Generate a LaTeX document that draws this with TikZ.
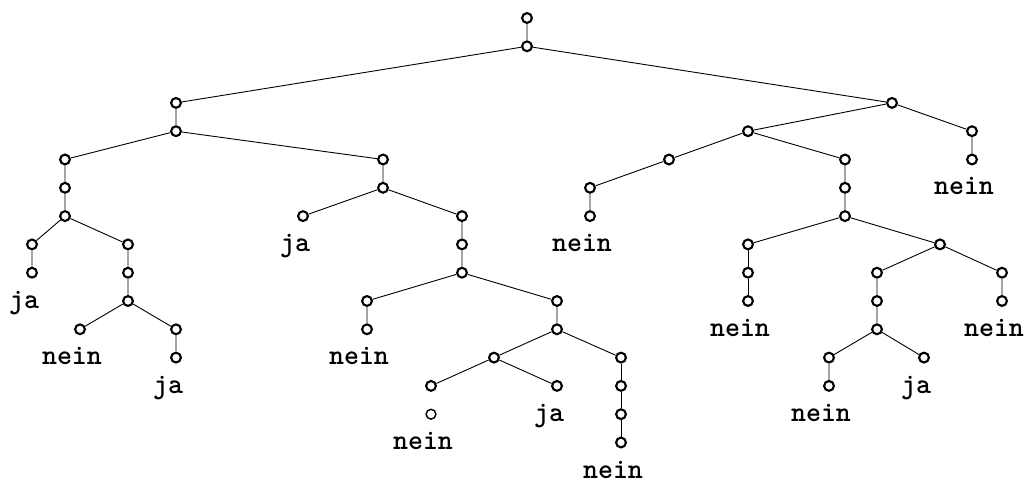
\documentclass[tikz,border=0pt]{standalone}
\begin{document}
\begin{tikzpicture}[x=1pt,y=-1pt,
  vx/.style={circle,draw,line width=2.1pt,minimum size=9.8pt,inner sep=0pt},
  vxthin/.style={vx,line width=1.4pt},
  edge/.style={line width=0.9pt},
  lab/.style={anchor=base,inner sep=0pt,font=\fontsize{28.5}{30}\selectfont\ttfamily\bfseries}]
\useasboundingbox (0,0) rectangle (1029,481);
% rows of the tree
\def\ya{18}\def\yb{46.3}\def\yd{102.9}\def\ye{131.2}\def\yf{159.5}\def\yg{187.8}
\def\yh{216.1}\def\yi{244.4}\def\yj{272.7}\def\yk{301}\def\yl{329.3}\def\ym{357.6}
\def\yn{385.9}\def\yo{414.2}\def\yp{442.5}
% vertices
\node[vx] (n0) at (527,\ya) {};
\node[vx] (n1) at (527,\yb) {};
\node[vx] (a)  at (176,\yd) {};
\node[vx] (a1) at (176,\ye) {};
\node[vx] (b)  at (65,\yf) {};
\node[vx] (b1) at (65,\yg) {};
\node[vx] (b2) at (65,\yh) {};
\node[vx] (c)  at (32,\yi) {};
\node[vx] (c1) at (32,\yj) {};
\node[vx] (d)  at (128,\yi) {};
\node[vx] (d1) at (128,\yj) {};
\node[vx] (d2) at (128,\yk) {};
\node[vx] (e)  at (80,\yl) {};
\node[vx] (f)  at (176,\yl) {};
\node[vx] (f1) at (176,\ym) {};
\node[vx] (g)  at (383,\yf) {};
\node[vx] (g1) at (383,\yg) {};
\node[vx] (h)  at (303,\yh) {};
\node[vx] (i)  at (462,\yh) {};
\node[vx] (i1) at (462,\yi) {};
\node[vx] (i2) at (462,\yj) {};
\node[vx] (j)  at (367,\yk) {};
\node[vx] (j1) at (367,\yl) {};
\node[vx] (k)  at (557,\yk) {};
\node[vx] (k1) at (557,\yl) {};
\node[vx] (l)  at (494,\ym) {};
\node[vx] (m)  at (431,\yn) {};
\node[vxthin] (m1) at (431,\yo) {};
\node[vx] (o)  at (557,\yn) {};
\node[vx] (p)  at (621,\ym) {};
\node[vx] (p1) at (621,\yn) {};
\node[vx] (p2) at (621,\yo) {};
\node[vx] (p3) at (621,\yp) {};
\node[vx] (q)  at (892,\yd) {};
\node[vx] (r)  at (748,\ye) {};
\node[vx] (s)  at (669,\yf) {};
\node[vx] (s1) at (590,\yg) {};
\node[vx] (s2) at (590,\yh) {};
\node[vx] (t)  at (845,\yf) {};
\node[vx] (t1) at (845,\yg) {};
\node[vx] (t2) at (845,\yh) {};
\node[vx] (u)  at (748,\yi) {};
\node[vx] (u1) at (748,\yj) {};
\node[vx] (u2) at (748,\yk) {};
\node[vx] (v)  at (940,\yi) {};
\node[vx] (w)  at (877,\yj) {};
\node[vx] (w1) at (877,\yk) {};
\node[vx] (w2) at (877,\yl) {};
\node[vx] (x)  at (829,\ym) {};
\node[vx] (x1) at (829,\yn) {};
\node[vx] (y)  at (924,\ym) {};
\node[vx] (z)  at (1002,\yj) {};
\node[vx] (z1) at (1002,\yk) {};
\node[vx] (qq) at (972,\ye) {};
\node[vx] (qq1) at (972,\yf) {};
% edges
\draw[edge] (n0)--(n1) (n1)--(a) (n1)--(q);
\draw[edge] (a)--(a1) (a1)--(b) (a1)--(g);
\draw[edge] (b)--(b1) (b1)--(b2) (b2)--(c) (b2)--(d) (c)--(c1);
\draw[edge] (d)--(d1) (d1)--(d2) (d2)--(e) (d2)--(f) (f)--(f1);
\draw[edge] (g)--(g1) (g1)--(h) (g1)--(i) (i)--(i1) (i1)--(i2);
\draw[edge] (i2)--(j) (i2)--(k) (j)--(j1) (k)--(k1);
\draw[edge] (k1)--(l) (k1)--(p) (l)--(m) (l)--(o);
\draw[edge] (p)--(p1) (p1)--(p2) (p2)--(p3);
\draw[edge] (q)--(r) (q)--(qq) (qq)--(qq1);
\draw[edge] (r)--(s) (r)--(t) (s)--(s1) (s1)--(s2);
\draw[edge] (t)--(t1) (t1)--(t2) (t2)--(u) (t2)--(v);
\draw[edge] (u)--(u1) (u1)--(u2);
\draw[edge] (v)--(w) (v)--(z) (w)--(w1) (w1)--(w2) (z)--(z1);
\draw[edge] (w2)--(x) (w2)--(y) (x)--(x1);
% answers at the leaves
\foreach \leaf/\txt in {c1/ja,e/nein,f1/ja,h/ja,j1/nein,m1/nein,o/ja,p3/nein,
  s2/nein,u2/nein,x1/nein,y/ja,z1/nein,qq1/nein}
  \node[lab] at ([xshift=-8pt,yshift=-35.5pt]\leaf.center) {\txt};
\end{tikzpicture}
\end{document}
